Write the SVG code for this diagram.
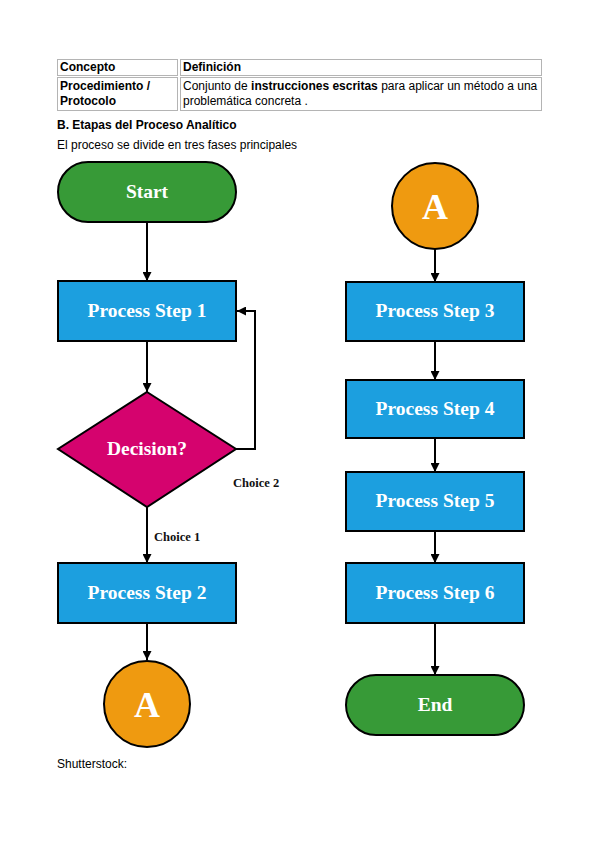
<svg xmlns="http://www.w3.org/2000/svg" width="599" height="848" viewBox="0 0 599 848">
<style>
  .cell { fill: #ffffff; stroke: #b4b4b4; stroke-width: 1; }
  .tx { font-family: "Liberation Sans", Arial, sans-serif; font-size: 12px; fill: #000; }
  .b { font-weight: bold; }
  .node { stroke: #000; stroke-width: 2; }
  .term { fill: #379a37; }
  .proc { fill: #1c9fdf; }
  .dec { fill: #d5036e; }
  .conn { fill: #ef9a10; }
  .lbl { font-family: "Liberation Serif", "Times New Roman", serif; font-weight: bold; fill: #ffffff; text-anchor: middle; font-size: 19.5px; }
  .big { font-size: 36px; }
  .ch { font-family: "Liberation Serif", "Times New Roman", serif; font-weight: bold; fill: #111; font-size: 12.5px; }
  .edge { fill: none; stroke: #000; stroke-width: 2; marker-end: url(#ah); }
</style>
<defs>
  <marker id="ah" viewBox="0 0 10 10" refX="10" refY="5" markerWidth="10" markerHeight="9" markerUnits="userSpaceOnUse" orient="auto">
    <path d="M0,0 L10,5 L0,10 z" fill="#000"/>
  </marker>
</defs>
<rect width="599" height="848" fill="#ffffff"/>

<g id="table">
  <rect class="cell" x="57.5" y="59.5" width="120" height="16"/>
  <rect class="cell" x="180.5" y="59.5" width="361" height="16"/>
  <rect class="cell" x="57.5" y="77.5" width="120" height="33"/>
  <rect class="cell" x="180.5" y="77.5" width="361" height="33"/>
  <text class="tx b" x="60" y="71">Concepto</text>
  <text class="tx b" x="183" y="71">Definición</text>
  <text class="tx b" x="60" y="90">Procedimiento /</text>
  <text class="tx b" x="60" y="105">Protocolo</text>
  <text class="tx" x="183" y="90">Conjunto de <tspan class="b">instrucciones escritas</tspan> para aplicar un método a una</text>
  <text class="tx" x="183" y="105">problemática concreta .</text>
</g>

<text class="tx b" x="57" y="129">B. Etapas del Proceso Analítico</text>
<text class="tx" x="57" y="149">El proceso se divide en tres fases principales</text>
<text class="tx" x="57" y="768">Shutterstock:</text>

<g id="connectors">
  <path class="edge" d="M147,222 L147,281"/>
  <path class="edge" d="M147,341 L147,392"/>
  <path class="edge" d="M147,507 L147,563"/>
  <path class="edge" d="M147,623 L147,660"/>
  <path class="edge" d="M236,449 L255,449 L255,311 L237,311"/>
  <path class="edge" d="M435,249 L435,282"/>
  <path class="edge" d="M435,341 L435,380"/>
  <path class="edge" d="M435,438 L435,472"/>
  <path class="edge" d="M435,531 L435,563"/>
  <path class="edge" d="M435,623 L435,675"/>
  <text class="ch" x="233" y="487">Choice 2</text>
  <text class="ch" x="154" y="541">Choice 1</text>
</g>

<g id="start">
  <rect class="node term" x="58" y="162" width="178" height="60" rx="30"/>
  <text class="lbl" x="147" y="198">Start</text>
</g>
<g id="step1">
  <rect class="node proc" x="58" y="281" width="178" height="60"/>
  <text class="lbl" x="147" y="317">Process Step 1</text>
</g>
<g id="decision">
  <polygon class="node dec" points="147,392 236,449 147,507 58,449"/>
  <text class="lbl" x="147" y="455">Decision?</text>
</g>
<g id="step2">
  <rect class="node proc" x="58" y="563" width="178" height="60"/>
  <text class="lbl" x="147" y="599">Process Step 2</text>
</g>
<g id="connectorA1">
  <circle class="node conn" cx="147" cy="704" r="43"/>
  <text class="lbl big" x="147" y="717">A</text>
</g>

<g id="connectorA2">
  <circle class="node conn" cx="435" cy="206" r="43"/>
  <text class="lbl big" x="435" y="219">A</text>
</g>
<g id="step3">
  <rect class="node proc" x="346" y="282" width="178" height="59"/>
  <text class="lbl" x="435" y="317">Process Step 3</text>
</g>
<g id="step4">
  <rect class="node proc" x="346" y="380" width="178" height="58"/>
  <text class="lbl" x="435" y="415">Process Step 4</text>
</g>
<g id="step5">
  <rect class="node proc" x="346" y="472" width="178" height="59"/>
  <text class="lbl" x="435" y="507">Process Step 5</text>
</g>
<g id="step6">
  <rect class="node proc" x="346" y="563" width="178" height="60"/>
  <text class="lbl" x="435" y="599">Process Step 6</text>
</g>
<g id="end">
  <rect class="node term" x="346" y="675" width="178" height="60" rx="30"/>
  <text class="lbl" x="435" y="711">End</text>
</g>
</svg>
